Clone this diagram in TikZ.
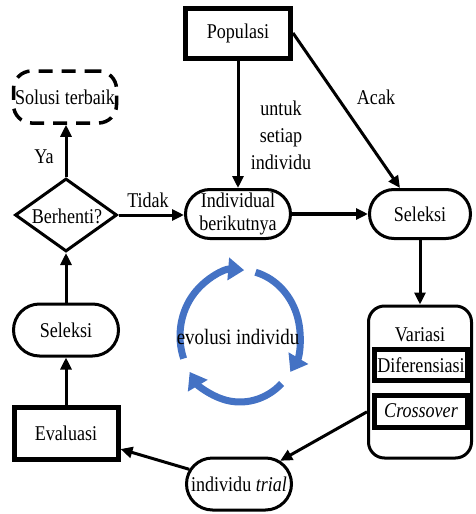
\documentclass[tikz,border=0pt]{standalone}
\usepackage{fontspec}
\setmainfont{Liberation Serif}[FakeStretch=0.86]
\usetikzlibrary{arrows.meta,shapes.geometric,shapes.misc,calc}
\definecolor{cycblue}{RGB}{68,114,196}
\tikzset{
  txt/.style={font=\fontsize{21}{23}\selectfont, inner sep=0pt},
  pill/.style={rounded rectangle, draw, line width=3pt, txt, align=center},
  thickbox/.style={rectangle, draw, line width=5pt, txt},
  conn/.style={line width=3pt, -{Triangle[length=12pt,width=11pt]}},
  cyc/.style={line width=7pt, cycblue, -{Triangle[length=16pt,width=22pt]}},
}
\begin{document}
\begin{tikzpicture}[x=1pt,y={(0pt,-1pt)}]
\useasboundingbox (0,0) rectangle (475,514);
% nodes
\node[thickbox, minimum width=105pt, minimum height=50pt] (pop) at (238,33) {Populasi};
\node[rectangle, rounded corners=18pt, draw, line width=3.5pt, dash pattern=on 14pt off 9pt, txt,
      minimum width=103pt, minimum height=52pt] (sol) at (65,97) {Solusi terbaik};
\node[diamond, draw, line width=3pt, minimum width=102pt, minimum height=73pt, inner sep=0pt] (d) at (66,215) {};
\node[txt] (dt) at (67,216) {Berhenti?};
\node[pill, minimum width=105pt, minimum height=49pt] (ind) at (238,214) {Individual\\berikutnya};
\node[pill, minimum width=101pt, minimum height=49pt] (selr) at (420,214) {Seleksi};
\node[rectangle, rounded corners=16pt, draw, line width=3pt, minimum width=103pt, minimum height=152pt] (var) at (420,382) {};
\node[txt] (vart) at (420,335) {Variasi};
\node[thickbox, minimum width=93pt, minimum height=31pt] (dif) at (421,365) {Diferensiasi};
\node[thickbox, minimum width=93pt, minimum height=32pt] (cro) at (421,411) {\itshape Crossover};
\node[pill, minimum width=105pt, minimum height=52pt] (trial) at (239,484) {individu \textit{trial}};
\node[thickbox, minimum width=104pt, minimum height=52pt] (eval) at (66,433) {Evaluasi};
\node[pill, minimum width=105pt, minimum height=52pt] (sell) at (66,330) {Seleksi};
% labels
\node[txt] (ya) at (44,157) {Ya};
\node[txt] (tidak) at (148,200) {Tidak};
\node[txt] (acak) at (376,97) {Acak};
\node[txt, align=center, font=\fontsize{21}{27}\selectfont] (untuk) at (281,135) {untuk\\setiap\\individu};
% connectors
\draw[conn] (d.north) -- (d.north |- sol.south);
\draw[conn] (d.east) -- (d.east -| ind.west);
\draw[conn] (pop.south) -- (ind.north);
\draw[conn] (pop.east) -- ($(selr.north)+(-20,0)$);
\draw[conn, line width=4pt] (ind.east) -- (ind.east -| selr.west);
\draw[conn] (selr.south) -- (selr.south |- var.north);
\draw[conn] (var) -- (trial);
\draw[conn] (trial) -- (eval);
\draw[conn] (eval.north) -- (sell.south);
\draw[conn] (sell.north) -- (d.south);
% evolution cycle
\coordinate (cc) at (240,336);
\draw[cyc] (cc) ++(200:60pt and 66pt) arc[start angle=200, end angle=86, x radius=60pt, y radius=66pt];
\draw[cyc] (cc) ++(75:60pt and 66pt) arc[start angle=75, end angle=-33, x radius=60pt, y radius=66pt];
\draw[cyc] (cc) ++(-46:60pt and 66pt) arc[start angle=-46, end angle=-147, x radius=60pt, y radius=66pt];
\node[txt, font=\fontsize{22}{23}\selectfont] (evo) at (238,337) {evolusi individu};
\end{tikzpicture}
\end{document}
